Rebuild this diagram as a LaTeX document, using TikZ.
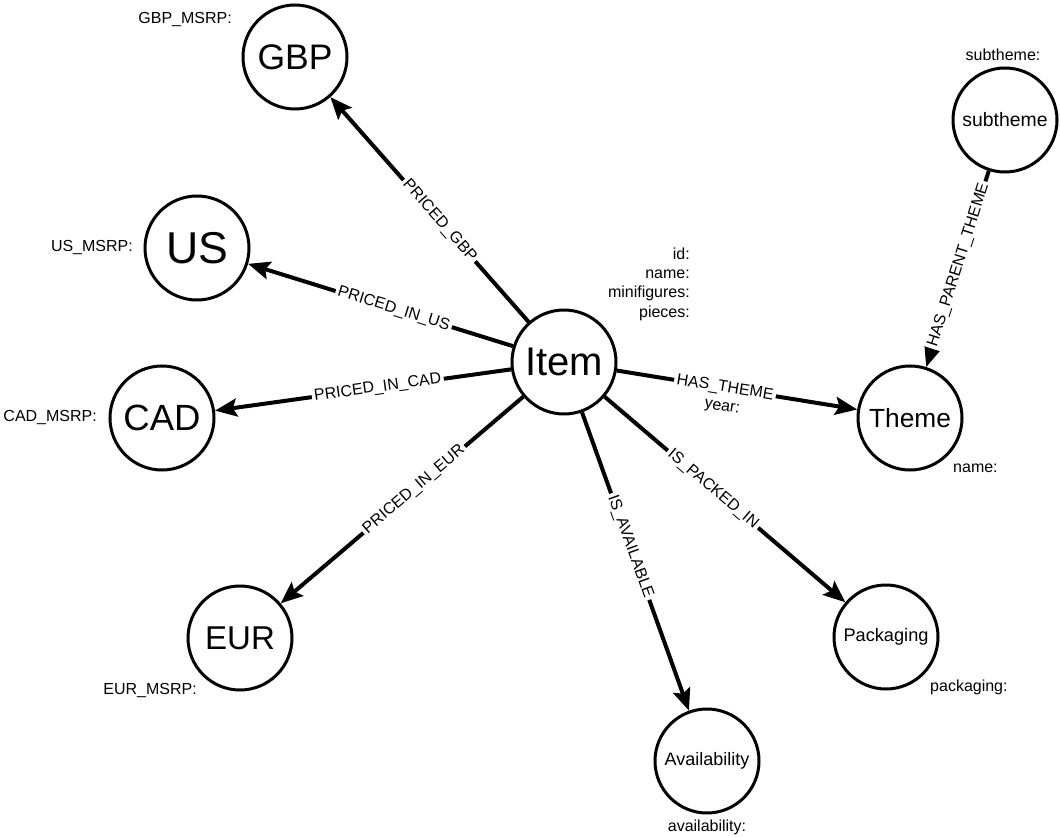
\documentclass[tikz,border=0pt]{standalone}
\usepackage{fontspec}
\setmainfont{Liberation Sans}
\usetikzlibrary{arrows.meta}

\begin{document}
\begin{tikzpicture}[x=1pt,y=-1pt,
  entity/.style={draw,circle,line width=3pt,minimum size=104pt,inner sep=0pt},
  rel/.style={line width=4pt,-{Stealth[length=22pt,width=18pt,inset=4pt]}},
  rellabel/.style={sloped,fill=white,inner sep=2.5pt,pos=0.45,font=\fontsize{16}{16}\selectfont},
  prop/.style={inner sep=0pt,font=\fontsize{16}{19.3}\selectfont}]
\useasboundingbox (0,0) rectangle (1060,837);
\node[entity,font=\fontsize{40}{40}\selectfont] (Item) at (564,362) {Item};
\node[entity,font=\fontsize{35.5}{36}\selectfont] (GBP) at (295,57) {GBP};
\node[entity,font=\fontsize{44.6}{45}\selectfont] (US) at (197,248) {US};
\node[entity,font=\fontsize{36.5}{37}\selectfont] (CAD) at (162,418) {CAD};
\node[entity,font=\fontsize{33}{33}\selectfont] (EUR) at (240,638) {EUR};
\node[entity,font=\fontsize{18}{18}\selectfont] (Avail) at (707,761) {Availability};
\node[entity,font=\fontsize{18.2}{18}\selectfont] (Pack) at (886,637) {Packaging};
\node[entity,font=\fontsize{26.3}{26}\selectfont] (Theme) at (910,418) {Theme};
\node[entity,font=\fontsize{19.4}{19}\selectfont] (Sub) at (1005,120) {subtheme};
% properties
\node[prop,align=right,anchor=east] (ItemProps) at (690,284) {id:\\name:\\minifigures:\\pieces:};
\node[prop,anchor=east] (GBPProp) at (232,20) {GBP\_MSRP:};
\node[prop,anchor=east] (USProp) at (133,248) {US\_MSRP:};
\node[prop,anchor=east] (CADProp) at (97,418) {CAD\_MSRP:};
\node[prop,anchor=east] (EURProp) at (197,690) {EUR\_MSRP:};
\node[prop] (SubProp) at (1003,55) {subtheme:};
\node[prop,anchor=west] (ThemeProp) at (953,468) {name:};
\node[prop,anchor=west] (PackProp) at (930,687) {packaging:};
\node[prop] (AvailProp) at (707,827) {availability:};
\path[rel]
(Item) edge node[rellabel] {PRICED\_GBP} (GBP)
(Item) edge node[rellabel] {PRICED\_IN\_US} (US)
(Item) edge node[rellabel] {PRICED\_IN\_CAD} (CAD)
(Item) edge node[rellabel] {PRICED\_IN\_EUR} (EUR)
(Item) edge node[rellabel] {IS\_AVAILABLE} (Avail)
(Item) edge node[rellabel] {IS\_PACKED\_IN} (Pack)
(Item) edge node[rellabel] {HAS\_THEME} (Theme)
(Sub) edge node[rellabel,pos=0.48] {HAS\_PARENT\_THEME} (Theme);
% edge property
\node[prop,rotate=-9.2] (YearProp) at (722,408) {year:};
\end{tikzpicture}
\end{document}
